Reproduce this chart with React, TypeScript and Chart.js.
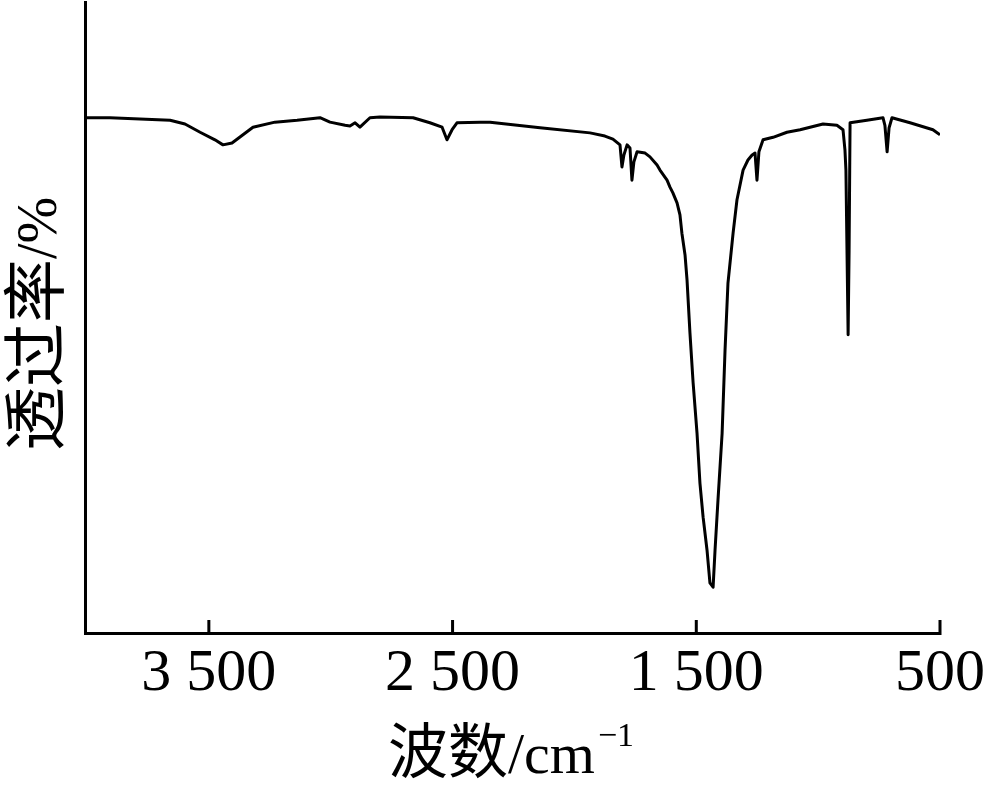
import { useEffect, useRef } from 'react';
import { Chart, registerables } from 'chart.js';

Chart.register(...registerables);

// Wavenumber (cm^-1) and transmittance (arbitrary %, 0 = bottom, 100 = top of axis)
const wavenumbers = [
  4000, 3906, 3783, 3659, 3598, 3536, 3475, 3442, 3405, 3360, 3319, 3229, 3138, 3044, 3003,
  2941, 2921, 2900, 2880, 2839, 2798, 2662, 2593, 2543, 2523, 2502, 2482, 2387, 2346, 2141,
  1936, 1875, 1842, 1813, 1805, 1797, 1784, 1772, 1764, 1756, 1743, 1710, 1690, 1661, 1649,
  1620, 1608, 1596, 1579, 1567, 1559, 1546, 1538, 1526, 1513, 1497, 1485, 1472, 1456, 1444,
  1431, 1423, 1411, 1394, 1382, 1370, 1349, 1333, 1308, 1288, 1271, 1259, 1251, 1243, 1226,
  1185, 1128, 1074, 980, 923, 898, 890, 886, 877, 873, 869, 800, 734, 726, 717, 709, 697,
  623, 529, 500,
];
const transmittance = [
  81.5, 81.5, 81.3, 81.1, 80.5, 79.2, 78.0, 77.2, 77.5, 78.8, 80.0, 80.8, 81.1, 81.5, 80.8,
  80.3, 80.2, 80.7, 80.0, 81.5, 81.6, 81.5, 80.7, 80.0, 78.0, 79.6, 80.7, 80.8, 80.8, 79.9,
  79.1, 78.6, 78.1, 77.2, 73.7, 75.6, 77.2, 76.7, 71.6, 74.5, 76.1, 75.9, 75.3, 74.0, 73.2,
  71.6, 70.5, 69.6, 68.0, 66.1, 63.2, 59.7, 55.8, 47.4, 39.5, 31.5, 23.6, 18.2, 13.0, 7.8,
  7.1, 13.0, 20.9, 31.5, 44.7, 55.3, 63.2, 68.5, 73.2, 74.8, 75.6, 75.9, 71.6, 76.1, 78.0,
  78.4, 79.2, 79.6, 80.5, 80.3, 79.6, 76.4, 73.2, 47.1, 60.5, 80.7, 81.1, 81.5, 80.3, 76.1,
  79.9, 81.5, 80.7, 79.6, 78.8,
];

const xTickValues = [3500, 2500, 1500, 500];
const xTickLabels = ['3 500', '2 500', '1 500', '500'];
const xTitleMain = '波数';
const xTitleUnit = '/cm';
const xTitleSup = '−1';
const yTitleMain = '透过率';
const yTitleUnit = '/%';

const CJK = '"Noto Sans CJK SC", "Noto Sans CJK JP", sans-serif';
const SERIF = '"Liberation Serif", "DejaVu Serif", serif';

const decorPlugin = {
  id: 'decor',
  afterDraw(chart: any) {
    const ctx = chart.ctx as CanvasRenderingContext2D;
    const xs = chart.scales.x;
    const { left, right, top, bottom } = chart.chartArea;
    ctx.save();
    ctx.strokeStyle = '#000';
    ctx.fillStyle = '#000';
    ctx.lineWidth = 3;
    ctx.lineCap = 'butt';
    // axes
    ctx.beginPath();
    ctx.moveTo(left - 1.5, top);
    ctx.lineTo(left - 1.5, bottom + 3);
    ctx.moveTo(left - 3, bottom + 1.5);
    ctx.lineTo(right + 1.5, bottom + 1.5);
    ctx.stroke();
    // inward ticks
    ctx.beginPath();
    for (const v of xTickValues) {
      const px = Math.min(xs.getPixelForValue(v), right);
      ctx.moveTo(px, bottom - 12);
      ctx.lineTo(px, bottom);
    }
    ctx.stroke();

    // x title
    ctx.textBaseline = 'alphabetic';
    ctx.textAlign = 'left';
    const fMain = '60px ' + CJK;
    const fUnit = '58px ' + SERIF;
    const fSup = '34px ' + SERIF;
    ctx.font = fMain;
    const w1 = ctx.measureText(xTitleMain).width;
    ctx.font = fUnit;
    const w2 = ctx.measureText(xTitleUnit).width;
    ctx.font = fSup;
    const w3 = ctx.measureText(xTitleSup).width;
    const total = w1 + w2 + 3 + w3;
    const cx = 511;
    let x = cx - total / 2;
    const base = 773;
    ctx.font = fMain;
    ctx.fillText(xTitleMain, x, base);
    x += w1;
    ctx.font = fUnit;
    ctx.fillText(xTitleUnit, x, base);
    x += w2 + 3;
    ctx.font = fSup;
    ctx.fillText(xTitleSup, x, base - 27);

    // y title (rotated)
    ctx.translate(58, 324);
    ctx.rotate(-Math.PI / 2);
    const yMainFont = '64px ' + CJK;
    const yUnitFont = '56px ' + SERIF;
    ctx.font = yMainFont;
    const yw1 = ctx.measureText(yTitleMain).width;
    ctx.font = yUnitFont;
    const yw2 = ctx.measureText(yTitleUnit).width;
    let yx = -(yw1 + yw2) / 2;
    ctx.font = yMainFont;
    ctx.fillText(yTitleMain, yx, 0);
    yx += yw1;
    ctx.font = yUnitFont;
    ctx.fillText(yTitleUnit, yx, -2);
    ctx.restore();
  },
};

export default function App() {
  const ref = useRef<HTMLCanvasElement | null>(null);
  useEffect(() => {
    document.body.style.margin = '0';
    const canvas = ref.current;
    if (!canvas) return;
    const points = wavenumbers.map((w, i) => ({ x: w, y: transmittance[i] }));
    const chart = new Chart(canvas, {
      type: 'line',
      data: {
        datasets: [
          {
            data: points,
            borderColor: '#000',
            borderWidth: 3,
            pointRadius: 0,
            tension: 0,
            fill: false,
            borderJoinStyle: 'round',
          } as any,
        ],
      },
      options: {
        responsive: false,
        animation: false,
        devicePixelRatio: 1,
        layout: { padding: { left: 87, top: 1, right: 44, bottom: 0 } },
        plugins: { legend: { display: false }, tooltip: { enabled: false }, title: { display: false } },
        scales: {
          x: {
            type: 'linear',
            reverse: true,
            min: 500,
            max: 4000,
            grid: { display: false, drawTicks: false },
            border: { display: false },
            afterBuildTicks: (s: any) => {
              s.ticks = xTickValues.map((v) => ({ value: v }));
            },
            afterFit: (s: any) => {
              s.height = 154;
              s.paddingLeft = 0;
              s.paddingRight = 0;
            },
            ticks: {
              autoSkip: false,
              maxRotation: 0,
              minRotation: 0,
              padding: 6,
              color: '#000',
              font: { family: SERIF, size: 60 },
              callback: (v: any) => {
                const i = xTickValues.indexOf(Number(v));
                return i >= 0 ? xTickLabels[i] : '';
              },
            },
          },
          y: {
            type: 'linear',
            display: false,
            min: 0,
            max: 100,
          },
        },
      },
      plugins: [decorPlugin],
    });
    return () => chart.destroy();
  }, []);
  return (
    <div style={{ width: 984, height: 786, background: '#fff' }}>
      <canvas ref={ref} width={984} height={786} style={{ display: 'block' }} />
    </div>
  );
}
